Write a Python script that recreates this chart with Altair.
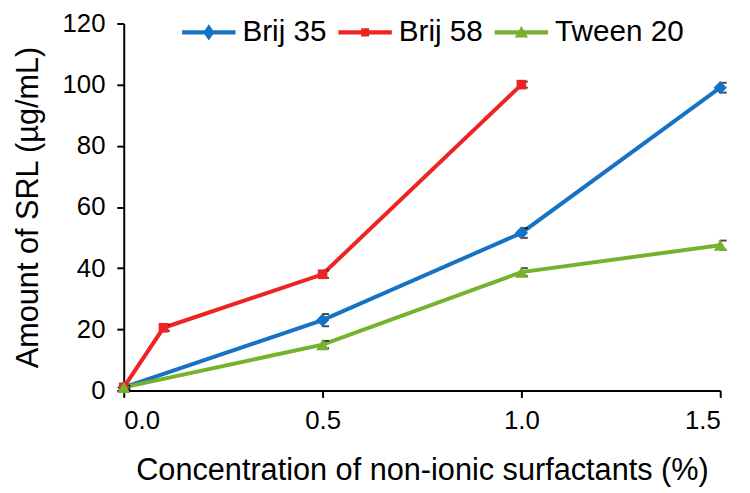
import altair as alt
import pandas as pd

series_names = ["Brij 35", "Brij 58", "Tween 20"]
series_colors = ["#1673C4", "#EE2424", "#76B22D"]

brij35_conc = [0.0, 0.5, 1.0, 1.5]
brij35_amount = [1.0, 23.0, 51.5, 99.0]
brij35_err = [0.5, 2.0, 1.6, 1.6]

brij58_conc = [0.0, 0.1, 0.5, 1.0]
brij58_amount = [1.0, 20.5, 38.0, 100.0]
brij58_err = [0.5, 1.0, 1.2, 1.0]

tween20_conc = [0.0, 0.5, 1.0, 1.5]
tween20_amount = [1.0, 15.0, 38.7, 47.5]
tween20_err = [0.5, 1.2, 1.3, 1.5]

x_ticks = [0.0, 0.5, 1.0, 1.5]
y_ticks = [0, 20, 40, 60, 80, 100, 120]

x_title = "Concentration of non-ionic surfactants (%)"
y_title = "Amount of SRL (µg/mL)"

rows = []
for name, xs, ys, es in zip(
    series_names,
    [brij35_conc, brij58_conc, tween20_conc],
    [brij35_amount, brij58_amount, tween20_amount],
    [brij35_err, brij58_err, tween20_err],
):
    for xv, yv, ev in zip(xs, ys, es):
        rows.append({"series": name, "conc": xv, "amount": yv, "lo": yv - ev, "hi": yv + ev})
df = pd.DataFrame(rows)

FONT = "Liberation Sans"

x_scale = alt.Scale(domain=[0, 1.5], nice=False, zero=False)
y_scale = alt.Scale(domain=[0, 120], nice=False)
x_axis = alt.Axis(values=x_ticks, format=".1f", title=x_title)
y_axis = alt.Axis(values=y_ticks, title=y_title)

def X(field):
    return alt.X(field, scale=x_scale, axis=x_axis)

def Y(field):
    return alt.Y(field, scale=y_scale, axis=y_axis)

color_scale = alt.Scale(domain=series_names, range=series_colors)
color_nolegend = alt.Color("series:N", scale=color_scale, legend=None)

base = alt.Chart(df)

lines = base.mark_line(strokeWidth=4).encode(x=X("conc:Q"), y=Y("amount:Q"), color=color_nolegend)

err_rules = base.mark_rule(color="black", strokeWidth=1.5).encode(
    x=X("conc:Q"), y=Y("lo:Q"), y2="hi:Q"
)
caps_lo = base.mark_tick(color="black", orient="horizontal", size=7, thickness=2, xOffset=3).encode(
    x=X("conc:Q"), y=Y("lo:Q")
)
caps_hi = base.mark_tick(color="black", orient="horizontal", size=7, thickness=2, xOffset=3).encode(
    x=X("conc:Q"), y=Y("hi:Q")
)

marker_shapes = ["diamond", "square", "triangle-up"]
marker_sizes = [180, 95, 170]
markers = []
for name, shp, sz in zip(series_names, marker_shapes, marker_sizes):
    markers.append(
        base.transform_filter(alt.datum.series == name)
        .mark_point(shape=shp, filled=True, size=sz, opacity=1)
        .encode(x=X("conc:Q"), y=Y("amount:Q"), color=color_nolegend)
    )

# legend glyphs: a line segment with the series marker on it
legend_paths = [
    "M-1,-0.075H1V0.075H-1Z M0,-0.3L0.21,0L0,0.3L-0.21,0Z",
    "M-1,-0.075H1V0.075H-1Z M-0.15,-0.15H0.15V0.15H-0.15Z",
    "M-1,-0.075H1V0.075H-1Z M0,-0.24L0.25,0.19L-0.25,0.19Z",
]
legend_def = alt.Legend(
    orient="none",
    legendX=59,
    legendY=-18,
    direction="horizontal",
    title=None,
    symbolSize=2916,
    symbolOpacity=1,
    symbolStrokeWidth=0,
    labelFontSize=30,
    labelFont=FONT,
    labelColor="black",
    labelOffset=7,
    columnPadding=11,
    labelLimit=300,
)
legend_layer = base.mark_point(filled=True, size=0).encode(
    x=X("conc:Q"),
    y=Y("amount:Q"),
    color=alt.Color("series:N", scale=color_scale, legend=legend_def),
    shape=alt.Shape("series:N", scale=alt.Scale(domain=series_names, range=legend_paths), legend=legend_def),
)

chart = (
    alt.layer(lines, err_rules, caps_lo, caps_hi, *markers, legend_layer)
    .resolve_legend(color="independent", shape="independent")
    .properties(
        width=603,
        height=371,
        autosize="none",
        padding={"left": 117, "top": 13, "right": 22, "bottom": 101},
    )
    .configure_view(stroke=None)
    .configure_axis(
        grid=False,
        domainColor="black",
        domainWidth=2,
        tickColor="black",
        tickWidth=2,
        tickSize=7,
        labelFont=FONT,
        labelFontSize=26,
        labelColor="black",
        titleFont=FONT,
        titleFontSize=31,
        titleFontWeight="normal",
        titleColor="black",
    )
    .configure_axisX(labelPadding=10, titlePadding=23)
    .configure_axisY(labelPadding=12, titlePadding=18)
)

chart.save("out.html", embed_options={"renderer": "svg", "actions": False})
